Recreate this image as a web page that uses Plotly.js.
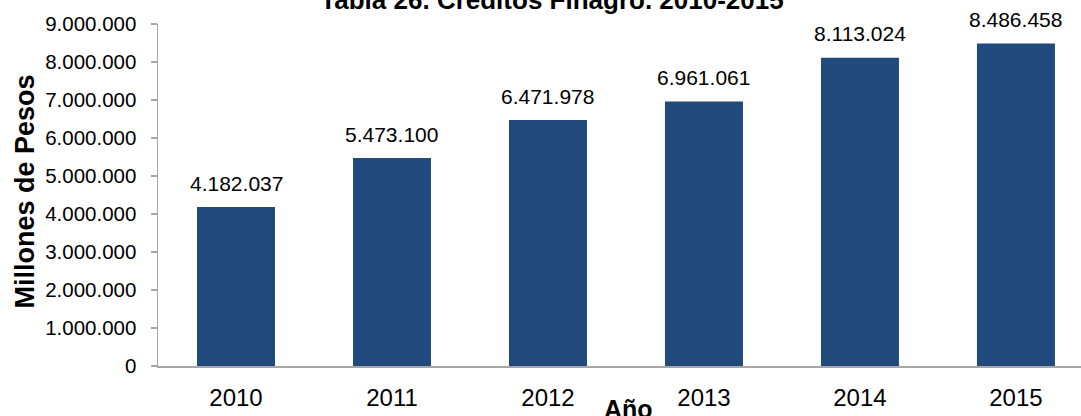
<!DOCTYPE html>
<html>
<head>
<meta charset="utf-8">
<script src="https://cdn.plot.ly/plotly-3.0.1.min.js"></script>
<style>html,body{margin:0;padding:0;background:#fff;}#chart{width:1081px;height:416px;}</style>
</head>
<body>
<div id="chart"></div>
<script>
const years = ['2010', '2011', '2012', '2013', '2014', '2015'];
const credits = [4182037, 5473100, 6471978, 6961061, 8113024, 8486458];
const chartTitle = 'Tabla 26. Créditos Finagro. 2010-2015';
const yTitle = 'Millones de Pesos';
const xTitle = 'Año';
const yTickVals = [0, 1000000, 2000000, 3000000, 4000000, 5000000, 6000000, 7000000, 8000000, 9000000];

function fmt(v) {
  return String(v).replace(/\B(?=(\d{3})+(?!\d))/g, '.');
}

const FONT = 'Liberation Sans, Arial, sans-serif';

const labelAnnotations = years.map((y, i) => ({
  x: i, y: credits[i], xref: 'x', yref: 'y',
  text: fmt(credits[i]), showarrow: false,
  xanchor: 'center', yanchor: 'middle', yshift: 24,
  font: {family: FONT, size: 21, color: '#000'}
}));

const trace = {
  type: 'bar', x: years, y: credits,
  marker: {color: '#214A7C', line: {width: 0}},
  width: 0.5, hoverinfo: 'none'
};

const layout = {
  width: 1081, height: 416,
  margin: {l: 158, r: 0, t: 24, b: 50, pad: 0},
  paper_bgcolor: '#fff', plot_bgcolor: '#fff',
  separators: ',.',
  showlegend: false,
  title: {
    text: '<b>' + chartTitle + '</b>',
    font: {family: FONT, size: 26, color: '#000'},
    x: 552 / 1081, xref: 'container', xanchor: 'center',
    y: 1.0, yref: 'container', yanchor: 'middle'
  },
  xaxis: {
    type: 'category',
    range: [-0.5, 5.417],
    showline: true, linecolor: '#A6A6A6', linewidth: 1.5,
    ticks: '', showgrid: false, zeroline: false,
    tickfont: {family: FONT, size: 24, color: '#000'},
    ticklabelstandoff: 10
  },
  yaxis: {
    range: [0, 9000000],
    tickvals: yTickVals,
    ticktext: yTickVals.map(fmt),
    showline: true, linecolor: '#A6A6A6', linewidth: 1.5,
    ticks: 'outside', ticklen: 6, tickcolor: '#A6A6A6', tickwidth: 1.5,
    showgrid: false, zeroline: false,
    tickfont: {family: FONT, size: 20.5, color: '#000'},
    ticklabelstandoff: 10
  },
  annotations: labelAnnotations.concat([
    {
      text: '<b>' + yTitle + '</b>', textangle: -90, showarrow: false,
      xref: 'paper', yref: 'paper', x: (25 - 158) / 923, y: 0.51,
      xanchor: 'center', yanchor: 'middle',
      font: {family: FONT, size: 27, color: '#000'}
    },
    {
      text: '<b>' + xTitle + '</b>', showarrow: false,
      xref: 'paper', yref: 'paper', x: (628 - 158) / 923, y: (366 - 409) / 342,
      xanchor: 'center', yanchor: 'middle',
      font: {family: FONT, size: 25, color: '#000'}
    }
  ])
};

Plotly.newPlot('chart', [trace], layout, {displayModeBar: false, staticPlot: true});
</script>
</body>
</html>
